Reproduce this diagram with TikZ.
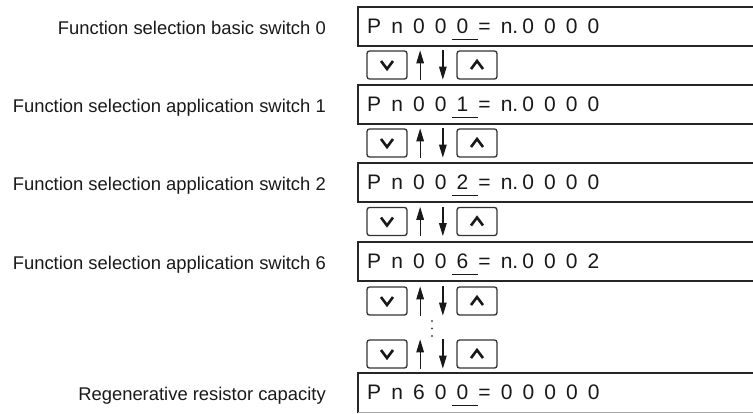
\documentclass[tikz,border=0pt]{standalone}
\usepackage{fontspec}
\setmainfont{Liberation Sans}
\usetikzlibrary{arrows.meta}

% underlined digit of the parameter number
\newcommand{\uldig}[1]{\rlap{\kern-5pt\rule[-6.8pt]{26pt}{1.3pt}}#1}
% display font, wide spacing between characters
\newcommand{\dispfont}{\fontsize{21}{23}\selectfont\spaceskip=10.1pt\relax}

\begin{document}
\begin{tikzpicture}[
  x=1pt, y=-1pt,
  lbl/.style={anchor=base east, inner sep=0pt, text=black!90,
              font=\fontsize{18.4}{20}\selectfont},
  disp/.style={anchor=base west, inner sep=0pt, text=black!90,
               font=\dispfont},
  dispbox/.style={line width=1.3pt, draw=black!85},
  keybtn/.style={draw=black!80, line width=1.3pt, rounded corners=2.5pt,
                 minimum width=40pt, minimum height=28pt, inner sep=0pt},
  chev/.style={line width=2.6pt, black!90},
  keyarr/.style={-{Stealth[length=13pt,width=7.5pt,inset=0pt]},
                 line width=1.3pt, black!90},
]
\useasboundingbox (0,0) rectangle (753,413);

% ---- Parameter displays ----
\foreach \t in {7,85,163,242}
  \draw[dispbox] (753,\t) -- (358,\t) -- (358,\t+39) -- (753,\t+39);
\draw[dispbox] (358,413) -- (358,373) -- (753,373);
\draw[black!35, line width=1pt] (358,412.4) -- (753,412.4);

% ---- Row 1 ----
\node[lbl] (lblbasic0) at (326,34) {Function selection basic switch 0};
\node[disp] (pn000) at (367,33) {P n 0 0 \uldig{0} = n.\kern4pt 0 0 0 0};

% ---- Row 2 ----
\node[lbl] (lblappl1) at (326,112) {Function selection application switch 1};
\node[disp] (pn001) at (367,111) {P n 0 0 \uldig{1} = n.\kern4pt 0 0 0 0};

% ---- Row 3 ----
\node[lbl] (lblappl2) at (326,190) {Function selection application switch 2};
\node[disp] (pn002) at (367,189) {P n 0 0 \uldig{2} = n.\kern4pt 0 0 0 0};

% ---- Row 4 ----
\node[lbl] (lblappl6) at (326,269) {Function selection application switch 6};
\node[disp] (pn006) at (367,268) {P n 0 0 \uldig{6} = n.\kern4pt 0 0 0 2};

% ---- Row 5 ----
\node[lbl] (lblregen) at (326,400) {Regenerative resistor capacity};
\node[disp] (pn600) at (367,399) {P n 6 0 \uldig{0} = 0 0 0 0 0};

% ---- Keys between the displays ----
\foreach \y/\n in {65/1,143/2,221.5/3,301/4,354/5} {
  \node[keybtn] (kdn\n) at (387,\y) {};
  \node[keybtn] (kup\n) at (477,\y) {};
  \draw[chev] (kdn\n.center) +(-6,-4) -- +(0,4) -- +(6,-4);
  \draw[chev] (kup\n.center) +(-6,4) -- +(0,-4) -- +(6,4);
  \draw[keyarr] ([xshift=12.5pt]kdn\n.south east) -- ([xshift=12.5pt]kdn\n.north east);
  \draw[keyarr] ([xshift=-13.5pt]kup\n.north west) -- ([xshift=-13.5pt]kup\n.south west);
}

% vertical dots
\foreach \d in {321,328.5,336}
  \fill[black!70] (432,\d) circle (1.1pt);

\end{tikzpicture}
\end{document}
